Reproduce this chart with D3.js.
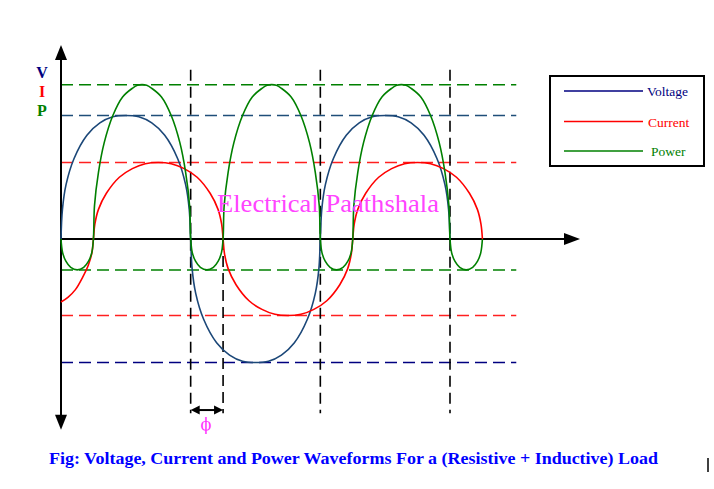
<!DOCTYPE html>
<html><head><meta charset="utf-8">
<script src="https://cdn.jsdelivr.net/npm/d3@7"></script>
<style>html,body{margin:0;padding:0;background:#fff} svg{display:block}</style>
</head><body>
<script>
// ---- data (degrees of the supply cycle vs. relative amplitude) ----
const voltageDeg = [0,2,7,18,36,54,72,90,108,126,144,162,173,178,180,
  182,187,198,216,234,252,270,288,306,324,342,353,358,360,
  362,367,378,396,414,432,450,468,486,504,522,533,538,540];
const voltageVal = [0,24,44,65,84,94,99,100,99,94,84,65,44,24,0,
  -24,-44,-65,-84,-94,-99,-100,-99,-94,-84,-65,-44,-24,0,
  24,44,65,84,94,99,100,99,94,84,65,44,24,0];

const currentDeg = [0,10,20,30,38,43,45,
  47,52,63,81,99,117,135,153,171,189,207,218,223,225,
  227,232,243,261,279,297,315,333,351,369,387,398,403,405,
  407,412,423,441,459,477,495,513,531,549,567,578,583,585];
const currentVal = [-51,-47,-41,-31,-21,-11,0,
  12,24,37,50,57,61,62,61,57,50,37,24,12,0,
  -12,-24,-37,-50,-57,-61,-62,-61,-57,-50,-37,-24,-12,0,
  12,24,37,50,57,61,62,61,57,50,37,24,12,0];

const powerDeg = [0,2.25,6.75,13.5,22.5,31.5,38.25,42.75,45,
  46.5,52,60,72,85.5,99,106,112.5,119,126,139.5,153,165,173,178.5,180,
  182.25,186.75,193.5,202.5,211.5,218.25,222.75,225,
  226.5,232,240,252,265.5,279,286,292.5,299,306,319.5,333,345,353,358.5,360,
  362.25,366.75,373.5,382.5,391.5,398.25,402.75,405,
  406.5,412,420,432,445.5,459,466,472.5,479,486,499.5,513,525,533,538.5,540,
  542.25,546.75,553.5,562.5,571.5,578.25,582.75,585];
const powerVal = [0,-11,-18,-23,-25,-23,-18,-11,0,
  27,54,78,100,115,122,124.4,125,124.4,122,115,100,78,54,27,0,
  -11,-18,-23,-25,-23,-18,-11,0,
  27,54,78,100,115,122,124.4,125,124.4,122,115,100,78,54,27,0,
  -11,-18,-23,-25,-23,-18,-11,0,
  27,54,78,100,115,122,124.4,125,124.4,122,115,100,78,54,27,0,
  -11,-18,-23,-25,-23,-18,-11,0];

const seriesNames = ["Voltage", "Current", "Power"];
const seriesColors = ["#1b4778", "#ff0000", "#008000"];
const legendColors = ["#000080", "#ff0000", "#008000"];
const peakLevels = [125, 100, 62, -25, -62, -100];
const peakColors = ["#008000", "#1f4e79", "#ff2020", "#008000", "#ff2020", "#000080"];
const markDeg = [180, 225, 360, 540];
const markTop = [137, 0, 137, 137];
const axisLetters = ["V", "I", "P"];
const axisLetterColors = ["#000080", "#ff0000", "#008000"];
const phiLabel = "\u03D5";
const watermark = "Electrical Paathshala";
const caption = "Fig: Voltage, Current and Power Waveforms For a (Resistive + Inductive) Load";

// ---- drawing ----
const W = 714, H = 489;
const svg = d3.select("body").append("svg").attr("width", W).attr("height", H);

const x = d3.scaleLinear().domain([0, 540]).range([61, 450]);
const y = d3.scaleLinear().domain([-100, 100]).range([362.5, 115.5]);

// horizontal peak reference lines
svg.append("g").selectAll("line").data(peakLevels).join("line")
  .attr("x1", x(0)).attr("x2", x(632))
  .attr("y1", d => y(d)).attr("y2", d => y(d))
  .attr("stroke", (d, i) => peakColors[i]).attr("stroke-width", 1.5)
  .attr("stroke-dasharray", "12,6");

// vertical zero-crossing markers
svg.append("g").selectAll("line").data(markDeg).join("line")
  .attr("x1", d => x(d)).attr("x2", d => x(d))
  .attr("y1", (d, i) => y(markTop[i])).attr("y2", y(-141))
  .attr("stroke", "#000").attr("stroke-width", 1.6)
  .attr("stroke-dasharray", "11,6");

// axes
const ax = svg.append("g");
const x0 = x(0), y0 = y(0);
const yTop = y(157), yBot = y(-154.5), xRight = x(720.5);
ax.append("line").attr("x1", x0).attr("x2", x0).attr("y1", yTop + 10).attr("y2", yBot - 10)
  .attr("stroke", "#000").attr("stroke-width", 2);
ax.append("line").attr("x1", x0).attr("x2", xRight - 10).attr("y1", y0).attr("y2", y0)
  .attr("stroke", "#000").attr("stroke-width", 2);
ax.append("path").attr("d", `M${x0},${yTop} L${x0 - 6},${yTop + 15} L${x0 + 6},${yTop + 15} Z`).attr("fill", "#000");
ax.append("path").attr("d", `M${x0},${yBot} L${x0 - 6},${yBot - 15} L${x0 + 6},${yBot - 15} Z`).attr("fill", "#000");
ax.append("path").attr("d", `M${xRight},${y0} L${xRight - 16},${y0 - 6} L${xRight - 16},${y0 + 6} Z`).attr("fill", "#000");

// waveforms
const line = d3.line().x(d => x(d[0])).y(d => y(d[1])).curve(d3.curveCatmullRom.alpha(0.5));
const series = [
  d3.zip(voltageDeg, voltageVal),
  d3.zip(currentDeg, currentVal),
  d3.zip(powerDeg, powerVal)
];
svg.append("g").selectAll("path").data(series).join("path")
  .attr("d", line).attr("fill", "none")
  .attr("stroke", (d, i) => seriesColors[i]).attr("stroke-width", 1.6);

// V I P letters
svg.append("g").selectAll("text").data(axisLetters).join("text")
  .attr("x", 42).attr("y", (d, i) => [78, 97, 116][i])
  .attr("text-anchor", "middle")
  .attr("font-family", "Liberation Serif, Times New Roman, serif")
  .attr("font-weight", "bold").attr("font-size", 16)
  .attr("fill", (d, i) => axisLetterColors[i]).text(d => d);

// watermark
svg.append("text").attr("x", 217).attr("y", 212)
  .attr("font-family", "Liberation Serif, Times New Roman, serif")
  .attr("font-size", 25).attr("fill", "#ff44ff")
  .attr("textLength", 222).attr("lengthAdjust", "spacingAndGlyphs")
  .text(watermark);

// phase-angle arrow
const ay = y(-138.5);
const pa = svg.append("g");
pa.append("line").attr("x1", x(180) + 6).attr("x2", x(225) - 6).attr("y1", ay).attr("y2", ay)
  .attr("stroke", "#000").attr("stroke-width", 2);
pa.append("path").attr("d", `M${x(180)},${ay} L${x(180) + 9},${ay - 4.5} L${x(180) + 9},${ay + 4.5} Z`).attr("fill", "#000");
pa.append("path").attr("d", `M${x(225)},${ay} L${x(225) - 9},${ay - 4.5} L${x(225) - 9},${ay + 4.5} Z`).attr("fill", "#000");
svg.append("text").attr("x", (x(180) + x(225)) / 2 - 1).attr("y", 430)
  .attr("text-anchor", "middle")
  .attr("font-family", "DejaVu Serif, Liberation Serif, serif")
  .attr("font-size", 16).attr("fill", "#ff33ff").text(phiLabel);

// legend
const lg = svg.append("g");
lg.append("rect").attr("x", 550).attr("y", 76).attr("width", 154).attr("height", 90)
  .attr("fill", "#fff").attr("stroke", "#000").attr("stroke-width", 2);
const rowsY = [91, 121.5, 151];
lg.selectAll("line.l").data(seriesNames).join("line").attr("class", "l")
  .attr("x1", 564).attr("x2", 643).attr("y1", (d, i) => rowsY[i]).attr("y2", (d, i) => rowsY[i])
  .attr("stroke", (d, i) => legendColors[i]).attr("stroke-width", 1.6);
lg.selectAll("text").data(seriesNames).join("text")
  .attr("x", (d, i) => [647, 648, 651][i]).attr("y", (d, i) => rowsY[i] + 5)
  .attr("font-family", "Liberation Serif, Times New Roman, serif")
  .attr("font-size", 13.5).attr("fill", (d, i) => legendColors[i]).text(d => d);

// caption
svg.append("text").attr("x", 49).attr("y", 464)
  .attr("font-family", "Liberation Serif, Times New Roman, serif")
  .attr("font-weight", "bold").attr("font-size", 16.5).attr("fill", "#0000ff")
  .attr("textLength", 609).attr("lengthAdjust", "spacingAndGlyphs")
  .text(caption);

// edge mark
svg.append("line").attr("x1", 708).attr("x2", 708).attr("y1", 458).attr("y2", 472)
  .attr("stroke", "#000").attr("stroke-width", 1.5);
</script>
</body></html>
